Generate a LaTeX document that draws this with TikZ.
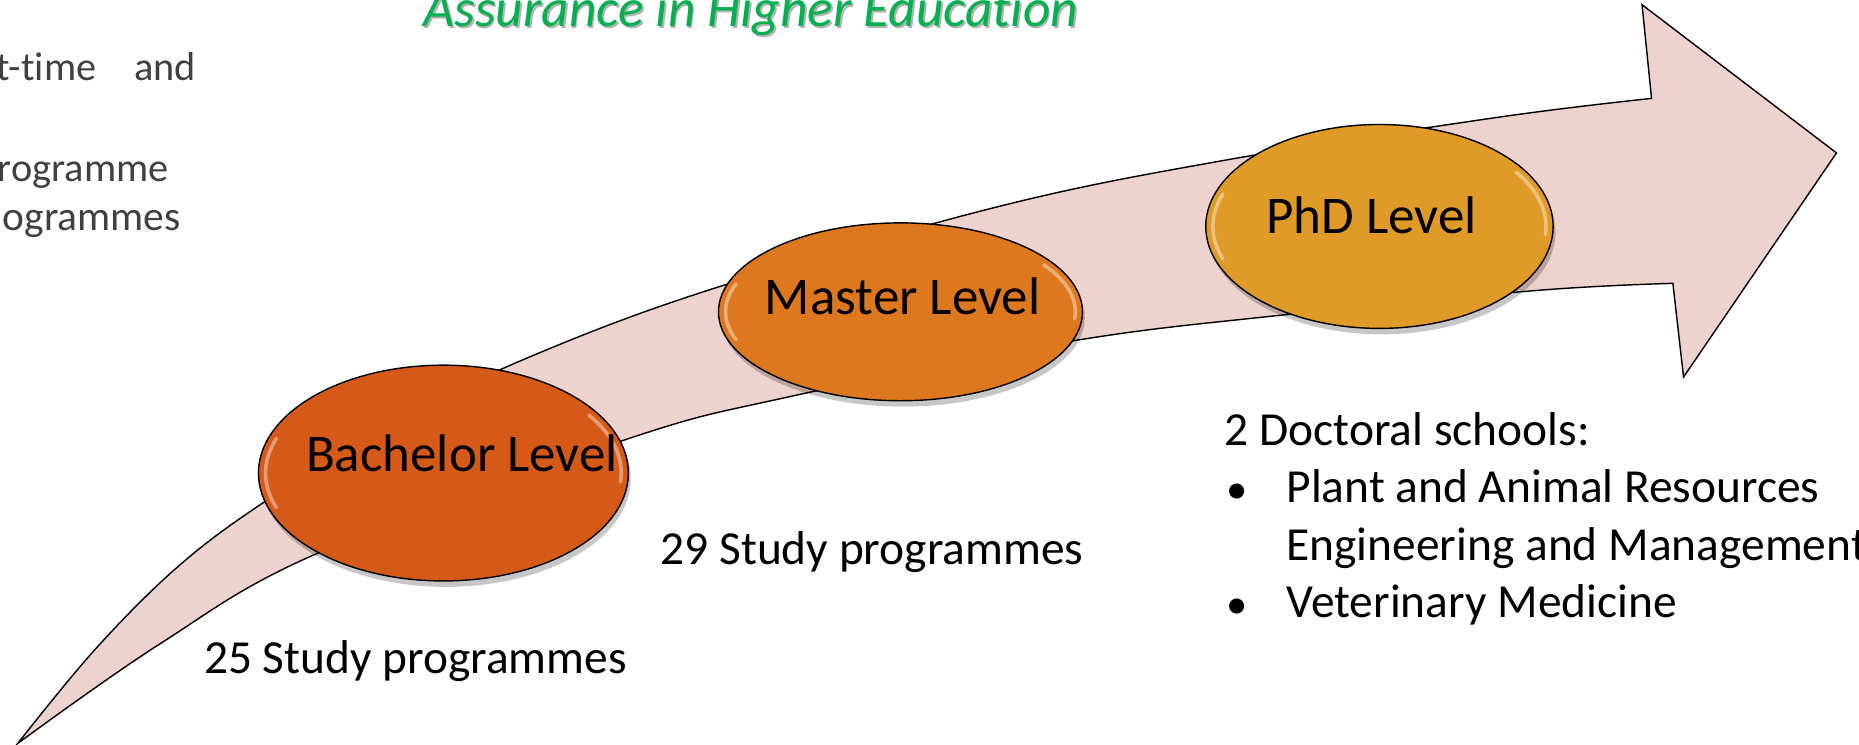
\documentclass[tikz,border=0pt]{standalone}
\usepackage{fontspec}
\setmainfont{Carlito}[Ligatures={NoCommon}]
\usetikzlibrary{shapes.geometric}
\definecolor{bandpink}{RGB}{238,210,205}
\definecolor{bachcol}{RGB}{213,90,24}
\definecolor{mastcol}{RGB}{221,120,30}
\definecolor{phdcol}{RGB}{223,154,40}
\definecolor{titlegreen}{RGB}{0,176,80}
\definecolor{graytext}{RGB}{64,64,64}
\begin{document}
\begin{tikzpicture}[x=1pt,y=-1pt,
  levelshape/.style={ellipse, draw=black, line width=1.2pt, inner sep=0pt},
  shadowshape/.style={ellipse, fill=black, opacity=0.22, inner sep=0pt},
  lvltext/.style={text=black, anchor=base west, inner sep=0pt, font=\fontsize{44.7}{50}\selectfont},
  bodytext/.style={font=\fontsize{40}{48}\selectfont, text=black, anchor=base west, inner sep=0pt},
  bullettext/.style={font=\fontsize{36}{40}\selectfont, text=black, anchor=base west, inner sep=0pt},
  graybody/.style={font=\fontsize{34}{41}\selectfont, text=graytext, inner sep=0pt, anchor=base west},
  glint/.style={white, opacity=0.4, line width=3pt, line cap=round}]
\useasboundingbox (0,0) rectangle (1568,628);
\clip (0,0) rectangle (1568,628);

% title (clipped at top)
\node[anchor=base west, inner sep=0pt, text=black!30, font=\fontsize{45}{50}\selectfont\itshape] at (358.5,24) {Assurance in Higher Education};
\node (title) [anchor=base west, inner sep=0pt, text=titlegreen, font=\fontsize{45}{50}\selectfont\itshape] at (357,22.5) {Assurance in Higher Education};

% top-left gray text (clipped at left)
\node (tl1) [graybody] at (-3,67.5) {t-time\hspace{32pt}and};
\node (tl2) [graybody] at (-2,153) {rogramme};
\node (tl3) [graybody, font=\fontsize{35}{41}\selectfont] at (2,194) {ogrammes};

% curved arrow band
\draw[fill=bandpink, line width=1.2pt, line join=miter]
  plot[smooth, tension=0.6] coordinates {(15,627) (80,548) (150,478) (222,424) (330,357) (454,298) (606,242) (843,174) (1034,135) (1263,99) (1393,83)}
  -- (1385,4) -- (1549,129) -- (1420,318) -- (1411,239)
  -- plot[smooth, tension=0.6] coordinates {(1411,239) (1296,245) (1079,266) (902,288) (664,335) (527,371) (267,467) (135,543) (15,627)}
  -- cycle;

% ellipses
\node[shadowshape, minimum width=312pt, minimum height=182pt] at (376,404) {};
\node (bach) [levelshape, fill=bachcol, minimum width=312pt, minimum height=182pt] at (374,399) {};
\node[shadowshape, minimum width=307pt, minimum height=150pt] at (761.5,268) {};
\node (mast) [levelshape, fill=mastcol, minimum width=307pt, minimum height=150pt] at (759.5,263) {};
\node[shadowshape, minimum width=293pt, minimum height=172pt] at (1165.5,196) {};
\node (phd) [levelshape, fill=phdcol, minimum width=293pt, minimum height=172pt] at (1163.5,191) {};

% glossy rims
\draw[glint] (374,399) ++(160:150pt and 85pt) arc[start angle=160, end angle=200, x radius=150pt, y radius=85pt];
\draw[glint] (374,399) ++(-5:150pt and 85pt) arc[start angle=-5, end angle=35, x radius=150pt, y radius=85pt];
\draw[glint] (759.5,263) ++(160:147.5pt and 69pt) arc[start angle=160, end angle=200, x radius=147.5pt, y radius=69pt];
\draw[glint] (759.5,263) ++(-5:147.5pt and 69pt) arc[start angle=-5, end angle=35, x radius=147.5pt, y radius=69pt];
\draw[glint] (1163.5,191) ++(160:140.5pt and 80pt) arc[start angle=160, end angle=200, x radius=140.5pt, y radius=80pt];
\draw[glint] (1163.5,191) ++(-5:140.5pt and 80pt) arc[start angle=-5, end angle=35, x radius=140.5pt, y radius=80pt];

% level labels
\node (bachT) [lvltext] at (258,398) {Bachelor Level};
\node (mastT) [lvltext] at (645,265) {Master Level};
\node (phdT) [lvltext] at (1068,197) {PhD Level};

% descriptions
\node (bachD) [bodytext] at (172,568) {25 Study programmes};
\node (mastD) [bodytext] at (557,476) {29 Study programmes};
\node (phdD) [bodytext] at (1033,376) {2 Doctoral schools:};
\node (b1) [bullettext] at (1034,425) {•};
\node (p1) [bodytext] at (1085,424) {Plant and Animal Resources};
\node (p2) [bodytext] at (1085,473) {Engineering and Management};
\node (b2) [bullettext] at (1034,522) {•};
\node (p3) [bodytext] at (1085,521) {Veterinary Medicine};
\end{tikzpicture}
\end{document}
